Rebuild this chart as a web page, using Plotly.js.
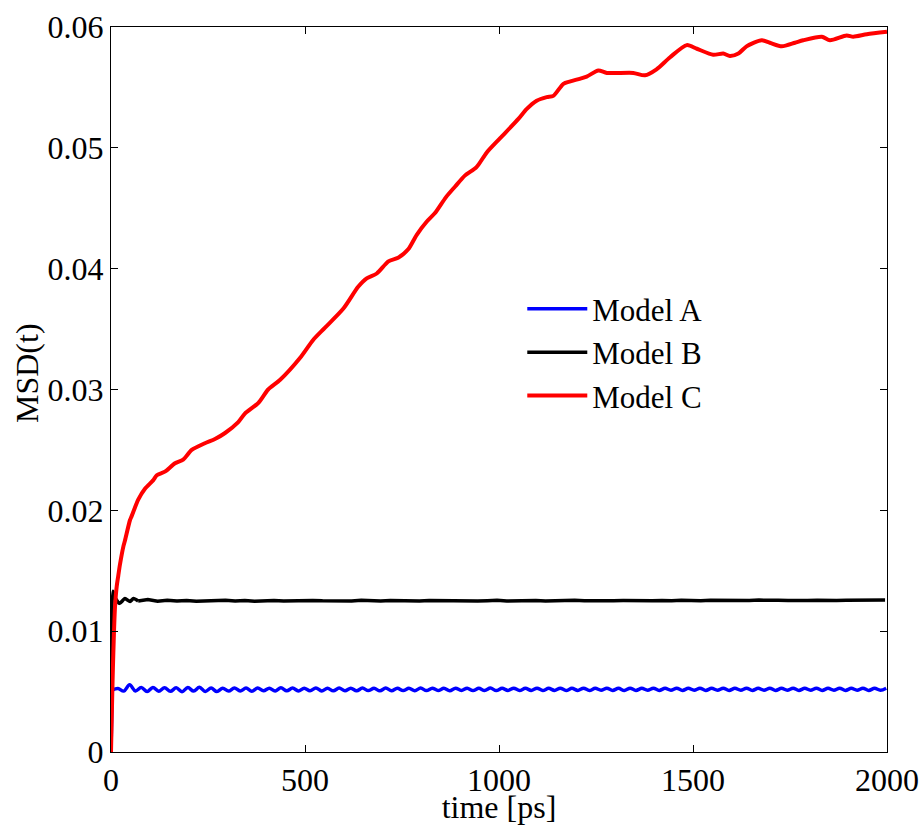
<!DOCTYPE html>
<html>
<head>
<meta charset="utf-8">
<script src="https://cdn.plot.ly/plotly-3.0.1.min.js"></script>
<style>html,body{margin:0;padding:0;background:#fff;}#chart{width:924px;height:825px;}</style>
</head>
<body>
<div id="chart"></div>
<script>
// ---- data ----
const seriesNames = ["Model A", "Model B", "Model C"];
const xTickVals = [0, 500, 1000, 1500, 2000];
const xTickText = ["0", "500", "1000", "1500", "2000"];
const yTickVals = [0, 0.01, 0.02, 0.03, 0.04, 0.05, 0.06];
const yTickText = ["0", "0.01", "0.02", "0.03", "0.04", "0.05", "0.06"];

// Model A (blue): initial jump, then sampled every 15 ps from t=3
const modelA_headT = [0, 3];
const modelA_headMSD = [0, 0.00512];
const modelA_tailStart = 3;
const modelA_tailStep = 15;
const modelA_tailMSD = [
  0.00512,0.00525,0.00504,0.00556,0.00505,0.00533,0.00500,0.00534,0.00503,0.00532,
  0.00502,0.00531,0.00499,0.00533,0.00504,0.00536,0.00501,0.00529,0.00500,0.00528,
  0.00504,0.00530,0.00505,0.00529,0.00503,0.00530,0.00506,0.00528,0.00504,0.00531,
  0.00506,0.00529,0.00505,0.00528,0.00507,0.00530,0.00505,0.00527,0.00506,0.00529,
  0.00507,0.00528,0.00506,0.00529,0.00508,0.00527,0.00506,0.00529,0.00507,0.00528,
  0.00508,0.00527,0.00507,0.00529,0.00508,0.00528,0.00509,0.00527,0.00507,0.00528,
  0.00509,0.00528,0.00508,0.00527,0.00509,0.00529,0.00508,0.00527,0.00510,0.00528,
  0.00509,0.00527,0.00510,0.00528,0.00509,0.00527,0.00510,0.00528,0.00509,0.00527,
  0.00510,0.00528,0.00509,0.00527,0.00511,0.00528,0.00510,0.00527,0.00509,0.00528,
  0.00510,0.00527,0.00511,0.00528,0.00510,0.00527,0.00511,0.00528,0.00510,0.00527,
  0.00511,0.00528,0.00510,0.00527,0.00511,0.00528,0.00510,0.00527,0.00511,0.00528,
  0.00510,0.00527,0.00511,0.00528,0.00510,0.00527,0.00511,0.00528,0.00510,0.00527,
  0.00511,0.00528,0.00510,0.00527,0.00511,0.00528,0.00510,0.00527,0.00511,0.00528,
  0.00510,0.00527,0.00511,0.00528
];

// Model B (black): initial overshoot, then sampled every 25 ps from t=70
const modelB_headT = [0, 1.5, 5, 10, 22, 36, 49, 58, 70];
const modelB_headMSD = [0, 0.0113, 0.0133, 0.0128, 0.0123, 0.0127, 0.01245, 0.0127, 0.0125];
const modelB_tailStart = 70;
const modelB_tailStep = 25;
const modelB_tailMSD = [
  0.01250,0.01262,0.01248,0.01256,0.01250,0.01254,0.01248,0.01252,0.01249,0.01255,
  0.01250,0.01253,0.01248,0.01251,0.01254,0.01249,0.01252,0.01250,0.01254,0.01251,
  0.01249,0.01253,0.01250,0.01255,0.01251,0.01249,0.01253,0.01250,0.01252,0.01249,
  0.01253,0.01251,0.01250,0.01254,0.01251,0.01249,0.01252,0.01255,0.01250,0.01252,
  0.01251,0.01254,0.01250,0.01253,0.01251,0.01255,0.01252,0.01250,0.01254,0.01252,
  0.01253,0.01251,0.01255,0.01252,0.01254,0.01251,0.01256,0.01253,0.01252,0.01255,
  0.01253,0.01256,0.01252,0.01254,0.01257,0.01253,0.01255,0.01254,0.01257,0.01253,
  0.01255,0.01258,0.01254,0.01256,0.01255,0.01257,0.01254,0.01258
];

// Model C (red)
const modelC_t = [0, 2, 4, 6, 8, 10.3, 14.7, 18.8, 23, 31.8, 36, 49, 53, 70.5, 88, 109, 118, 139, 165, 186,
  208, 242, 268, 294, 328, 345, 380, 405, 436, 487, 521, 551, 599, 637, 659, 685, 715, 740, 766, 788,
  814, 835, 863, 887, 912, 942, 968, 1003, 1050, 1071, 1097, 1123, 1140, 1166, 1184, 1226, 1256, 1278, 1346, 1376,
  1406, 1441, 1484, 1510, 1552, 1578, 1595, 1617, 1638, 1677, 1698, 1729, 1763, 1784, 1832, 1853, 1896, 1913, 1948, 2000];
const modelC_msd = [0, 0.003, 0.0058, 0.0082, 0.0102, 0.0120, 0.0137, 0.0146, 0.0155, 0.0170, 0.0175, 0.0192, 0.0195, 0.0209, 0.0218, 0.0225, 0.0229, 0.0232, 0.0239, 0.0242,
  0.0250, 0.02555, 0.0259, 0.0264, 0.0273, 0.0280, 0.0289, 0.0300, 0.0308, 0.0326, 0.0341, 0.0351, 0.0367, 0.0385, 0.0392, 0.0396, 0.0406, 0.0409, 0.0416, 0.0428,
  0.0439, 0.0446, 0.0459, 0.0468, 0.0477, 0.0484, 0.0496, 0.0508, 0.0524, 0.0532, 0.0539, 0.0542, 0.0543, 0.0553, 0.0555, 0.0559, 0.0564, 0.0562, 0.0562, 0.0560,
  0.0565, 0.0575, 0.0585, 0.0582, 0.0577, 0.0578, 0.0576, 0.0578, 0.0584, 0.0589, 0.0587, 0.0584, 0.0587, 0.0589, 0.0592, 0.0589, 0.0593, 0.0592, 0.0594, 0.0596];

// ---- styles ----
const FONT = "Liberation Serif, Times New Roman, DejaVu Serif, serif";
const colA = "#0000ff", colB = "#000000", colC = "#ff0000";

const traces = [
  {x: modelA_headT, y: modelA_headMSD, mode: "lines", line: {color: colA, width: 3.5},
   legendgroup: "A", showlegend: false, hoverinfo: "skip"},
  {x0: modelA_tailStart, dx: modelA_tailStep, y: modelA_tailMSD, mode: "lines", name: seriesNames[0],
   line: {color: colA, width: 3.5, shape: "spline", smoothing: 1}, legendgroup: "A"},
  {x: modelB_headT, y: modelB_headMSD, mode: "lines", line: {color: colB, width: 3.5, shape: "spline", smoothing: 0.6},
   legendgroup: "B", showlegend: false, hoverinfo: "skip"},
  {x0: modelB_tailStart, dx: modelB_tailStep, y: modelB_tailMSD, mode: "lines", name: seriesNames[1],
   line: {color: colB, width: 3.5}, legendgroup: "B"},
  {x: modelC_t, y: modelC_msd, mode: "lines", name: seriesNames[2],
   line: {color: colC, width: 4, shape: "spline", smoothing: 0.7}, legendgroup: "C"}
];

const layout = {
  width: 924, height: 825,
  margin: {l: 111, r: 37, t: 27, b: 73, pad: 0},
  paper_bgcolor: "#ffffff", plot_bgcolor: "#ffffff",
  font: {family: FONT, size: 32, color: "#000"},
  showlegend: true,
  legend: {x: 0.53, y: 0.648, xanchor: "left", yanchor: "top", bgcolor: "rgba(0,0,0,0)",
           borderwidth: 0, font: {family: FONT, size: 31, color: "#000"}, traceorder: "normal",
           itemwidth: 60, tracegroupgap: 0},
  xaxis: {
    range: [0, 2000], tickmode: "array", tickvals: xTickVals, ticktext: xTickText,
    ticks: "inside", ticklen: 7, tickwidth: 1, tickcolor: "#000",
    showline: true, linecolor: "#000", linewidth: 1, mirror: "ticks",
    showgrid: false, zeroline: false, automargin: false,
    tickfont: {family: FONT, size: 32, color: "#000"},
    title: {text: "time [ps]", font: {family: FONT, size: 32, color: "#000"}, standoff: 3}
  },
  yaxis: {
    range: [0, 0.06], tickmode: "array", tickvals: yTickVals, ticktext: yTickText,
    ticks: "inside", ticklen: 7, tickwidth: 1, tickcolor: "#000",
    showline: true, linecolor: "#000", linewidth: 1, mirror: "ticks",
    showgrid: false, zeroline: false, automargin: false,
    tickfont: {family: FONT, size: 32, color: "#000"}
  },
  annotations: [{
    text: "MSD(t)", textangle: -90, xref: "paper", yref: "paper",
    x: -0.108, y: 0.523, xanchor: "center", yanchor: "middle", showarrow: false,
    font: {family: FONT, size: 32, color: "#000"}
  }]
};

Plotly.newPlot("chart", traces, layout, {displayModeBar: false, staticPlot: true});
</script>
</body>
</html>
